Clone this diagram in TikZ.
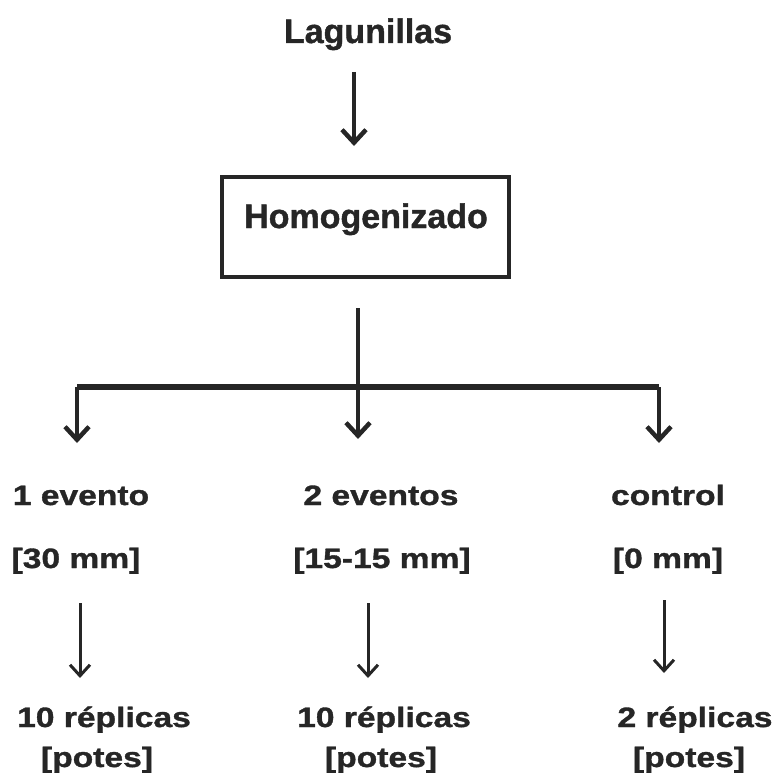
\documentclass[tikz,border=0pt]{standalone}
\usepackage{fontspec}
\newfontfamily\headbold{Liberation Sans Bold}[FakeBold=1.2]
\newfontfamily\widebold{Liberation Sans Bold}[FakeStretch=1.2,FakeBold=1.2]
\usetikzlibrary{arrows.meta}
\definecolor{ink}{RGB}{38,38,38}
\tikzset{
  headtext/.style={font=\headbold\fontsize{34}{40}\selectfont, text=ink, inner sep=0pt, anchor=base},
  label/.style={font=\widebold\fontsize{28}{32}\selectfont, text=ink, inner sep=0pt, anchor=base},
  procbox/.style={draw=ink, line width=4pt, minimum width=287pt, minimum height=100pt, inner sep=0pt},
  bigarrow/.style={draw=ink, line width=4.5pt, -{Straight Barb[length=13pt,width=24pt]}},
  smallarrow/.style={draw=ink, line width=3pt, -{Straight Barb[length=11pt,width=20pt]}},
  trunk/.style={draw=ink, line width=4.5pt},
  bar/.style={draw=ink, line width=6pt}
}
\begin{document}
\begin{tikzpicture}[x=1pt,y=-1pt]
  \useasboundingbox (0,0) rectangle (784,781);

  % source and processing step
  \node[headtext] (lag) at (368,43) {Lagunillas};
  \node[procbox] (box) at (365.5,227) {};
  \node[headtext] (hom) at (366,228) {Homogenizado};

  \coordinate (lagfoot) at (354,72);
  \coordinate (boxtop) at (354,146);
  \draw[bigarrow] (lagfoot) -- (boxtop);

  % splitter below the box
  \coordinate (trunktop) at (358,308);
  \coordinate (split) at (358,387);
  \coordinate (barL) at (77,387);
  \coordinate (barR) at (659,387);
  \coordinate (tipL) at (77,443);
  \coordinate (tipM) at (358,439);
  \coordinate (tipR) at (659,443);
  \draw[trunk] (trunktop) -- (split);
  \draw[bar] (barL) -- (barR);
  \draw[bigarrow] (barL) -- (tipL);
  \draw[bigarrow] (split) -- (tipM);
  \draw[bigarrow] (barR) -- (tipR);

  % treatments
  \node[label] (ev1) at (81,505) {1 evento};
  \node[label] (ev2) at (381,505) {2 eventos};
  \node[label] (ctl) at (668,505) {control};
  \node[label] (mm1) at (76,568) {[30 mm]};
  \node[label] (mm2) at (382,568) {[15-15 mm]};
  \node[label] (mm3) at (668,568) {[0 mm]};

  % replicates
  \coordinate (a1) at (80,603);
  \coordinate (b1) at (80,678);
  \coordinate (a2) at (368,603);
  \coordinate (b2) at (368,678);
  \coordinate (a3) at (664,600);
  \coordinate (b3) at (664,673);
  \draw[smallarrow] (a1) -- (b1);
  \draw[smallarrow] (a2) -- (b2);
  \draw[smallarrow] (a3) -- (b3);

  \node[label] (r1) at (104,727) {10 réplicas};
  \node[label] (r2) at (384,727) {10 réplicas};
  \node[label] (r3) at (695,727) {2 réplicas};
  \node[label] (p1) at (97,767) {[potes]};
  \node[label] (p2) at (381,767) {[potes]};
  \node[label] (p3) at (689,767) {[potes]};
\end{tikzpicture}
\end{document}
